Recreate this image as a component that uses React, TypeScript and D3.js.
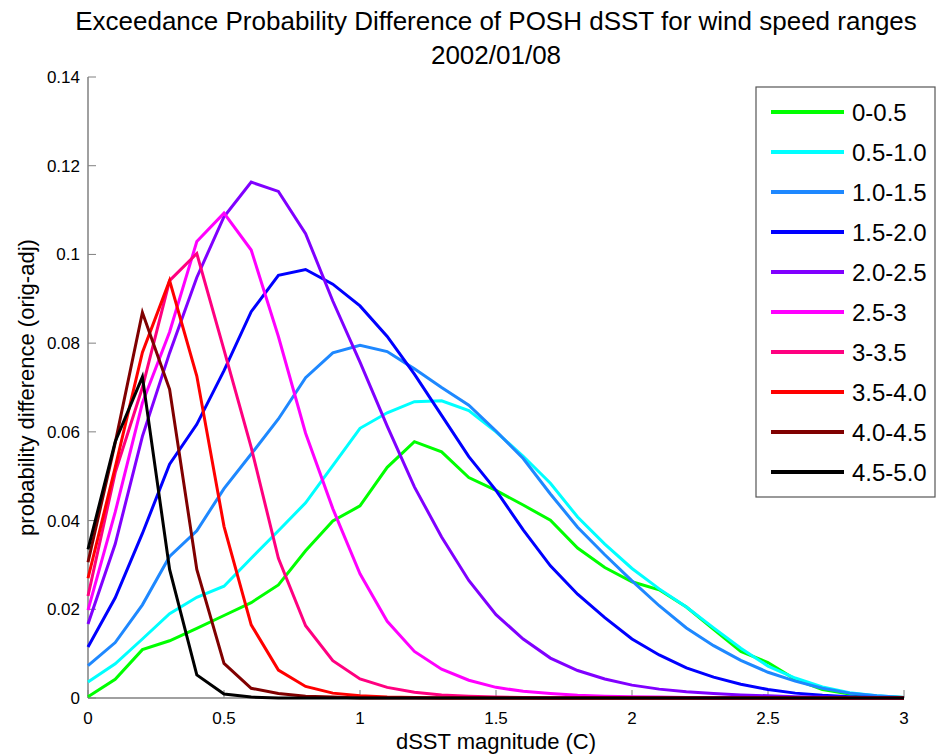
import React, { useEffect, useRef } from "react";
import * as d3 from "d3";

const xValues: number[] = d3.range(0, 31).map((i) => +(i * 0.1).toFixed(1));

const seriesNames: string[] = [
  "0-0.5", "0.5-1.0", "1.0-1.5", "1.5-2.0", "2.0-2.5",
  "2.5-3", "3-3.5", "3.5-4.0", "4.0-4.5", "4.5-5.0",
];

const seriesColors: string[] = [
  "#00ff00", "#00ffff", "#1e88ff", "#0000ff", "#8000ff",
  "#ff00ff", "#ff0080", "#ff0000", "#800000", "#000000",
];

const s00_05: number[] = [0.0003, 0.0042, 0.0109, 0.0129, 0.0157, 0.0186, 0.0215, 0.0255, 0.0332, 0.0399, 0.0433, 0.052, 0.0578, 0.0555, 0.0497, 0.0468, 0.0435, 0.0401, 0.0338, 0.0294, 0.0262, 0.0244, 0.0205, 0.0155, 0.0105, 0.008, 0.0042, 0.0019, 0.0009, 0.0004, 0.0001];
const s05_10: number[] = [0.0036, 0.0077, 0.0133, 0.019, 0.0227, 0.0252, 0.0315, 0.0377, 0.044, 0.0524, 0.0608, 0.0643, 0.0668, 0.067, 0.0648, 0.06, 0.0545, 0.0484, 0.0408, 0.0347, 0.0292, 0.0246, 0.0205, 0.0158, 0.0112, 0.0072, 0.0045, 0.0025, 0.0012, 0.0005, 0.0001];
const s10_15: number[] = [0.0073, 0.0125, 0.021, 0.0319, 0.0377, 0.0472, 0.055, 0.0629, 0.0722, 0.0778, 0.0795, 0.0781, 0.0742, 0.07, 0.066, 0.0602, 0.054, 0.046, 0.0385, 0.0323, 0.0264, 0.0208, 0.0158, 0.0118, 0.0085, 0.0058, 0.0038, 0.0022, 0.0011, 0.0005, 0.0001];
const s15_20: number[] = [0.0115, 0.0226, 0.0371, 0.0527, 0.0617, 0.0738, 0.0871, 0.0953, 0.0966, 0.0933, 0.0884, 0.0815, 0.073, 0.0637, 0.0544, 0.0468, 0.0379, 0.0298, 0.0234, 0.0181, 0.0133, 0.0097, 0.0068, 0.0047, 0.0031, 0.0019, 0.0011, 0.0006, 0.0003, 0.0001, 0];
const s20_25: number[] = [0.0167, 0.0347, 0.059, 0.0778, 0.0948, 0.1085, 0.1163, 0.1142, 0.1047, 0.0895, 0.0757, 0.0613, 0.0476, 0.0363, 0.0265, 0.0188, 0.0133, 0.009, 0.0062, 0.0043, 0.0029, 0.002, 0.0014, 0.001, 0.0007, 0.0005, 0.0003, 0.0002, 0.0001, 0.0001, 0];
const s25_30: number[] = [0.0198, 0.0419, 0.0665, 0.0825, 0.1029, 0.1093, 0.101, 0.0815, 0.0597, 0.0427, 0.028, 0.0173, 0.0105, 0.0065, 0.004, 0.0024, 0.0015, 0.001, 0.0006, 0.0004, 0.0003, 0.0002, 0.0001, 0, 0, 0, 0, 0, 0, 0, 0];
const s30_35: number[] = [0.023, 0.0508, 0.07, 0.0941, 0.1002, 0.0785, 0.0565, 0.0315, 0.0163, 0.0084, 0.0043, 0.0024, 0.0013, 0.0007, 0.0004, 0.0002, 0.0001, 0, 0, 0, 0, 0, 0, 0, 0, 0, 0, 0, 0, 0, 0];
const s35_40: number[] = [0.027, 0.052, 0.0779, 0.0941, 0.0726, 0.0387, 0.0165, 0.0063, 0.0026, 0.0011, 0.0005, 0.0002, 0.0001, 0, 0, 0, 0, 0, 0, 0, 0, 0, 0, 0, 0, 0, 0, 0, 0, 0, 0];
const s40_45: number[] = [0.0306, 0.0575, 0.0869, 0.0696, 0.029, 0.0078, 0.0022, 0.001, 0.0004, 0.0002, 0, 0, 0, 0, 0, 0, 0, 0, 0, 0, 0, 0, 0, 0, 0, 0, 0, 0, 0, 0, 0];
const s45_50: number[] = [0.0335, 0.0578, 0.0724, 0.029, 0.0052, 0.0009, 0.0002, 0, 0, 0, 0, 0, 0, 0, 0, 0, 0, 0, 0, 0, 0, 0, 0, 0, 0, 0, 0, 0, 0, 0, 0];

const seriesValues: number[][] = [s00_05, s05_10, s10_15, s15_20, s20_25, s25_30, s30_35, s35_40, s40_45, s45_50];

const xTicks: number[] = [0, 0.5, 1, 1.5, 2, 2.5, 3];
const xTickLabels: string[] = ["0", "0.5", "1", "1.5", "2", "2.5", "3"];
const yTicks: number[] = [0, 0.02, 0.04, 0.06, 0.08, 0.1, 0.12, 0.14];
const yTickLabels: string[] = ["0", "0.02", "0.04", "0.06", "0.08", "0.1", "0.12", "0.14"];

const titleLines: string[] = ["Exceedance Probability Difference of POSH dSST for wind speed ranges", "2002/01/08"];
const xLabel = "dSST magnitude (C)";
const yLabel = "probability difference (orig-adj)";

export default function App() {
  const ref = useRef<SVGSVGElement | null>(null);

  useEffect(() => {
    const W = 938, H = 755;
    const left = 88, right = 904, top = 77, bottom = 698;
    const font = "'Liberation Sans', Arial, Helvetica, sans-serif";
    const svg = d3.select(ref.current);
    svg.selectAll("*").remove();
    svg.attr("width", W).attr("height", H);

    svg.append("rect").attr("width", W).attr("height", H).attr("fill", "#fff");

    const x = d3.scaleLinear().domain([0, 3]).range([left, right]);
    const y = d3.scaleLinear().domain([0, 0.14]).range([bottom, top]);

    const axisColor = "#808080";

    svg.append("line").attr("x1", left).attr("x2", left).attr("y1", top).attr("y2", bottom)
      .attr("stroke", axisColor).attr("stroke-width", 1.5);
    svg.append("line").attr("x1", left).attr("x2", right).attr("y1", bottom).attr("y2", bottom)
      .attr("stroke", axisColor).attr("stroke-width", 1.5);

    yTicks.forEach((t, i) => {
      svg.append("line").attr("x1", left).attr("x2", left + 8).attr("y1", y(t)).attr("y2", y(t))
        .attr("stroke", axisColor).attr("stroke-width", 1);
      svg.append("text").attr("x", left - 8).attr("y", y(t)).attr("dy", "0.35em")
        .attr("text-anchor", "end").attr("font-family", font).attr("font-size", 17)
        .attr("fill", "#000").text(yTickLabels[i]);
    });

    xTicks.forEach((t, i) => {
      svg.append("line").attr("x1", x(t)).attr("x2", x(t)).attr("y1", bottom).attr("y2", bottom - 8)
        .attr("stroke", axisColor).attr("stroke-width", 1);
      svg.append("text").attr("x", x(t)).attr("y", 724)
        .attr("text-anchor", "middle").attr("font-family", font).attr("font-size", 17)
        .attr("fill", "#000").text(xTickLabels[i]);
    });

    const line = d3.line<number>().x((_, i) => x(xValues[i])).y((d) => y(d));
    seriesValues.forEach((vals, si) => {
      svg.append("path").attr("d", line(vals) as string).attr("fill", "none")
        .attr("stroke", seriesColors[si]).attr("stroke-width", 3)
        .attr("stroke-linejoin", "miter").attr("stroke-linecap", "butt");
    });

    svg.append("text").attr("x", (left + right) / 2).attr("y", 30).attr("text-anchor", "middle")
      .attr("font-family", font).attr("font-size", 26).attr("fill", "#000").text(titleLines[0]);
    svg.append("text").attr("x", (left + right) / 2).attr("y", 64).attr("text-anchor", "middle")
      .attr("font-family", font).attr("font-size", 26).attr("fill", "#000").text(titleLines[1]);

    svg.append("text").attr("x", (left + right) / 2).attr("y", 749).attr("text-anchor", "middle")
      .attr("font-family", font).attr("font-size", 22).attr("fill", "#000").text(xLabel);
    svg.append("text").attr("transform", `translate(34,${(top + bottom) / 2}) rotate(-90)`)
      .attr("text-anchor", "middle").attr("font-family", font).attr("font-size", 22)
      .attr("fill", "#000").text(yLabel);

    const lg = svg.append("g");
    lg.append("rect").attr("x", 756).attr("y", 87).attr("width", 179).attr("height", 410)
      .attr("fill", "#fff").attr("stroke", "#555").attr("stroke-width", 1.2);
    seriesNames.forEach((name, i) => {
      const ly = 112 + i * 40;
      lg.append("line").attr("x1", 771).attr("x2", 844).attr("y1", ly).attr("y2", ly)
        .attr("stroke", seriesColors[i]).attr("stroke-width", 4);
      lg.append("text").attr("x", 852).attr("y", ly).attr("dy", "0.38em")
        .attr("font-family", font).attr("font-size", 24).attr("fill", "#000").text(name);
    });
  }, []);

  return <svg ref={ref} style={{ position: "absolute", left: 0, top: 0, display: "block" }} />;
}
